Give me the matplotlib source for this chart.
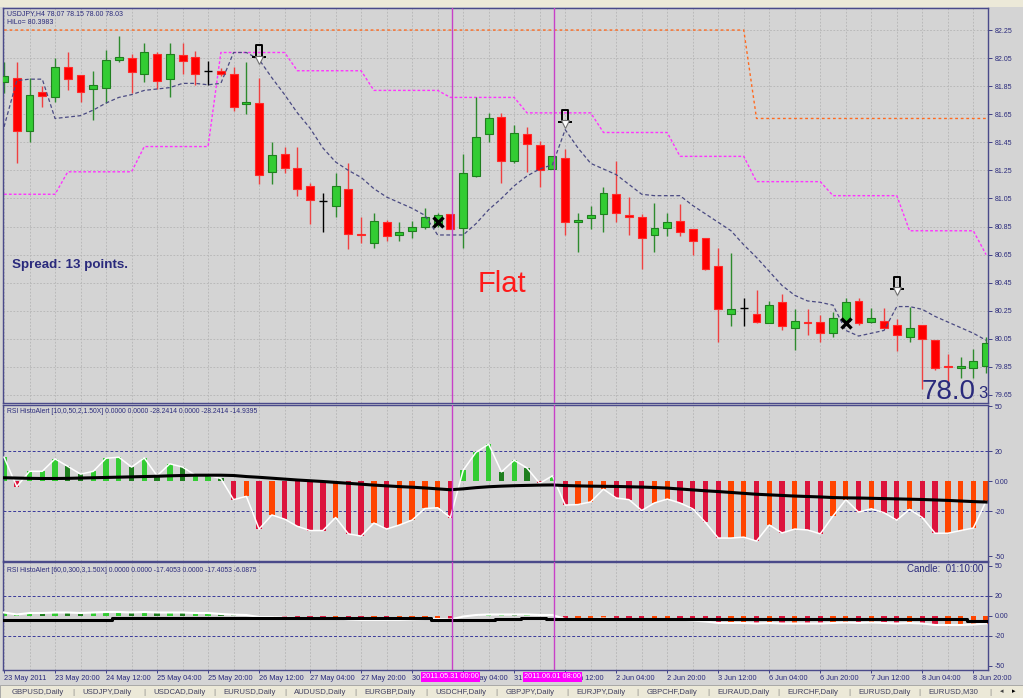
import matplotlib
matplotlib.use("Agg")
import matplotlib.pyplot as plt
import matplotlib.transforms as mtransforms
from matplotlib.path import Path
from matplotlib.patches import Rectangle

plt.rcParams["font.family"] = ["Liberation Sans", "DejaVu Sans"]

# USDJPY H4 bars, 23 May 04:00 .. 9 Jun 00:00
opens = [81.88, 81.91, 81.53, 81.81, 81.77, 81.99, 81.93, 81.83, 81.84, 82.04,
         82.05, 81.94, 82.08, 81.90, 82.07, 82.06, 81.96, 81.96, 81.94, 81.72,
         81.73, 81.24, 81.37, 81.27, 81.14, 81.03, 81.00, 81.12, 80.80, 80.73,
         80.88, 80.79, 80.82, 80.85, 80.86, 80.94, 80.84, 81.21, 81.51, 81.63,
         81.32, 81.51, 81.43, 81.26, 81.34, 80.88, 80.91, 80.94, 81.08, 80.93,
         80.92, 80.79, 80.84, 80.89, 80.83, 80.77, 80.57, 80.23, 80.27, 80.23,
         80.16, 80.31, 80.13, 80.17, 80.17, 80.09, 80.18, 80.32, 80.17, 80.18,
         80.15, 80.06, 80.15, 80.04, 79.86, 79.84, 79.84, 79.86]
highs = [82.02, 82.02, 81.91, 81.85, 82.05, 82.09, 81.93, 81.96, 82.11, 82.21,
         82.08, 82.16, 82.09, 82.16, 82.16, 82.10, 82.03, 81.98, 81.99, 82.02,
         81.91, 81.45, 81.42, 81.42, 81.16, 81.09, 81.23, 81.30, 80.92, 80.95,
         80.90, 80.88, 80.89, 80.98, 80.95, 80.94, 81.37, 81.77, 81.66, 81.66,
         81.57, 81.56, 81.46, 81.35, 81.40, 80.95, 81.00, 81.13, 81.32, 81.06,
         80.94, 81.02, 80.95, 81.01, 80.83, 80.77, 80.70, 80.66, 80.34, 80.40,
         80.32, 80.37, 80.26, 80.26, 80.22, 80.24, 80.34, 80.34, 80.27, 80.27,
         80.19, 80.28, 80.15, 80.04, 79.94, 79.92, 79.98, 80.06]
lows = [81.80, 81.30, 81.45, 81.70, 81.74, 81.82, 81.74, 81.61, 81.73, 82.02,
        81.80, 81.88, 81.83, 81.77, 81.94, 81.86, 81.86, 81.92, 81.67, 81.65,
        81.15, 81.15, 81.23, 81.07, 80.87, 80.81, 80.92, 80.69, 80.73, 80.70,
        80.75, 80.75, 80.77, 80.83, 80.85, 80.83, 80.70, 81.20, 81.45, 81.16,
        81.30, 81.24, 81.13, 81.26, 80.79, 80.67, 80.83, 80.81, 80.88, 80.79,
        80.55, 80.67, 80.78, 80.78, 80.65, 80.54, 80.03, 80.14, 80.14, 80.16,
        80.16, 80.11, 79.97, 80.08, 80.03, 80.06, 80.16, 80.15, 80.16, 80.13,
        79.96, 80.03, 79.69, 79.83, 79.71, 79.77, 79.77, 79.81]
closes = [81.92, 81.53, 81.79, 81.78, 81.99, 81.90, 81.81, 81.86, 82.04, 82.06,
          81.95, 82.09, 81.89, 82.08, 82.03, 81.94, 81.96, 81.94, 81.70, 81.74,
          81.22, 81.36, 81.27, 81.12, 81.04, 81.03, 81.14, 80.80, 80.79, 80.89,
          80.78, 80.81, 80.85, 80.92, 80.93, 80.83, 81.23, 81.49, 81.62, 81.32,
          81.52, 81.44, 81.25, 81.35, 80.88, 80.90, 80.93, 81.09, 80.95, 80.92,
          80.77, 80.84, 80.88, 80.81, 80.75, 80.55, 80.26, 80.26, 80.27, 80.17,
          80.29, 80.14, 80.18, 80.16, 80.09, 80.20, 80.31, 80.16, 80.20, 80.13,
          80.08, 80.13, 80.05, 79.84, 79.85, 79.86, 79.89, 80.02]

# indicator lines on the price chart
level_orange = [82.25] * 59 + [81.62] * 19
level_magenta = [81.08, 81.08, 81.08, 81.08, 81.08, 81.24, 81.24, 81.24, 81.24, 81.24,
                 81.24, 81.42, 81.42, 81.42, 81.42, 81.42, 81.42, 82.09, 82.09, 82.09,
                 82.09, 82.09, 82.09, 81.96, 81.96, 81.96, 81.96, 81.96, 81.96, 81.82,
                 81.82, 81.82, 81.82, 81.82, 81.82, 81.77, 81.77, 81.77, 81.77, 81.77,
                 81.77, 81.66, 81.66, 81.66, 81.66, 81.66, 81.66, 81.52, 81.52, 81.52,
                 81.52, 81.52, 81.52, 81.35, 81.35, 81.35, 81.35, 81.35, 81.35, 81.17,
                 81.17, 81.17, 81.17, 81.17, 81.17, 81.07, 81.07, 81.07, 81.07, 81.07,
                 81.07, 80.82, 80.82, 80.82, 80.82, 80.82, 80.82, 80.65]
trail = [81.56, 81.89, 81.90, 81.90, 81.62, 81.63, 81.64, 81.68, 81.73, 81.77,
         81.79, 81.82, 81.83, 81.84, 81.87, 81.87, 81.86, 81.87, 82.09, 82.09,
         82.04, 81.91, 81.79, 81.66, 81.55, 81.41, 81.31, 81.25, 81.20, 81.12,
         81.06, 81.02, 80.98, 80.93, 80.79, 80.79, 80.79, 80.87, 80.97, 81.05,
         81.14, 81.21, 81.26, 81.29, 81.54, 81.41, 81.30, 81.26, 81.22, 81.15,
         81.08, 81.07, 81.07, 81.07, 81.00, 80.94, 80.88, 80.82, 80.72, 80.63,
         80.53, 80.43, 80.36, 80.32, 80.31, 80.29, 80.11, 80.07, 80.09, 80.11,
         80.28, 80.28, 80.26, 80.21, 80.17, 80.13, 80.09, 80.04]
arrow_bars = [20, 44, 70]
arrow_prices = [82.10, 81.64, 80.45]
cross_bars = [34, 66]
cross_prices = [80.88, 80.16]

# RSI HistoAlert [10,...]
hist10 = [15.9, -3.7, 6.5, 6.5, 14.8, 9.8, 4.6, 6.5, 15.2, 15.9, 9.3, 15.4, 3.5, 11.5,
          9.3, 3.9, 3.9, 1.7, -12.4, -10.2, -32.0, -22.6, -25.4, -30.2, -33.0, -33.0,
          -24.3, -35.2, -36.7, -28.0, -32.0, -29.3, -26.0, -18.3, -17.8, -24.3, 7.2,
          19.1, 24.6, 6.1, 13.9, 8.7, -1.5, 3.5, -16.0, -15.7, -13.9, -5.4, -11.3,
          -12.4, -19.6, -14.6, -12.0, -14.6, -18.5, -27.6, -38.0, -38.0, -37.4, -40.0,
          -29.3, -34.6, -32.0, -32.6, -35.2, -23.3, -12.4, -20.7, -18.5, -21.1, -26.1,
          -18.9, -24.3, -34.8, -34.8, -33.0, -31.3, -13.5]
signal10 = [2.2, 2.0, 1.8, 1.7, 1.7, 1.8, 2.0, 2.2, 2.4, 2.6, 2.8, 3.0, 3.2, 3.5, 3.7,
            3.9, 3.9, 3.9, 3.7, 3.0, 2.5, 1.9, 1.3, 0.7, 0.2, -0.3, -0.9, -1.5, -2.1,
            -2.7, -3.2, -3.7, -4.1, -4.6, -5.2, -5.8, -5.2, -4.4, -3.8, -3.4, -3.1,
            -2.9, -2.7, -2.6, -3.0, -3.2, -3.4, -3.5, -3.6, -3.8, -4.0, -4.3, -4.7,
            -5.3, -5.9, -6.5, -7.0, -7.6, -8.2, -8.8, -9.2, -9.6, -10.0, -10.3, -10.6,
            -11.0, -11.2, -11.3, -11.5, -11.7, -11.9, -12.1, -12.3, -12.6, -12.9,
            -13.3, -13.7, -14.0]
# g = up (bright green), d = up but weaker (dark green), r = falling, o = recovering
kind10 = ("grgggddgggdgdgdggd" + "rororrrrorroroooor" + "gggdgdrg"
          + "rooorrroorrrroorororroororrorroooo")

# RSI HistoAlert [60,...]
hist60 = [3.0, 1.0, 2.5, 2.5, 3.0, 3.0, 2.5, 3.0, 3.5, 3.5, 3.0, 3.5, 3.0, 3.0, 3.0,
          2.5, 2.5, 1.5, 0.8, 0.5, -1.5, -1.5, -2.0, -2.5, -2.5, -2.5, -2.5, -4.0,
          -4.5, -4.5, -4.5, -4.5, -4.0, -3.5, -3.5, -4.0, -1.0, 0.5, 1.0, 1.0, 1.0,
          1.0, 0.5, 0.5, -3.5, -3.5, -3.5, -3.0, -3.5, -3.5, -4.0, -4.0, -4.0, -4.0,
          -5.0, -6.0, -7.5, -7.5, -7.5, -8.0, -7.5, -8.0, -8.0, -8.0, -8.0, -7.5,
          -7.0, -7.5, -7.0, -7.5, -8.0, -7.5, -8.0, -9.5, -9.5, -9.5, -9.0, -8.0]
signal60 = [-4.0, -4.0, -4.0, -4.0, -4.0, -4.0, -4.0, -4.0, -4.0, -2.3, -2.3, -2.3,
            -2.3, -2.3, -2.3, -2.3, -2.3, -2.3, -2.3, -2.3, -2.3, -2.3, -2.3, -2.3,
            -2.3, -2.3, -2.3, -2.3, -2.3, -2.3, -2.3, -2.3, -2.3, -2.3, -4.0, -4.0,
            -4.0, -4.0, -4.0, -3.0, -3.0, -2.0, -2.0, -3.0, -3.0, -3.0, -3.0, -3.0,
            -3.0, -3.0, -3.0, -3.0, -3.0, -3.0, -3.0, -3.0, -3.0, -3.0, -3.0, -3.0,
            -3.0, -3.0, -3.0, -3.7, -3.7, -3.7, -3.7, -3.7, -3.7, -3.7, -3.7, -3.7,
            -3.7, -3.7, -3.7, -3.7, -5.7, -5.7]
kind60 = ("gggdgddgggdgdgdggddd" + "rorrrrorrorooooro" + "gggdgdd"
          + "rooorrroorrrroorororroororrorroooo")

time_bars = [0, 4, 8, 12, 16, 20, 24, 28, 32, 36, 40, 44, 48, 52, 56, 60, 64, 68, 72, 76]
time_labels = ["23 May 2011", "23 May 20:00", "24 May 12:00", "25 May 04:00",
               "25 May 20:00", "26 May 12:00", "27 May 04:00", "27 May 20:00",
               "30 May 12:00", "31 May 04:00", "31 May 20:00", "1 Jun 12:00",
               "2 Jun 04:00", "2 Jun 20:00", "3 Jun 12:00", "6 Jun 04:00",
               "6 Jun 20:00", "7 Jun 12:00", "8 Jun 04:00", "8 Jun 20:00"]
vline_bars = [35, 43]
vline_labels = ["2011.05.31 00:00", "2011.06.01 08:00"]
price_ticks = [79.65, 79.85, 80.05, 80.25, 80.45, 80.65, 80.85, 81.05, 81.25,
               81.45, 81.65, 81.85, 82.05, 82.25]
tabs = ["GBPUSD,Daily", "USDJPY,Daily", "USDCAD,Daily", "EURUSD,Daily", "AUDUSD,Daily",
        "EURGBP,Daily", "USDCHF,Daily", "GBPJPY,Daily", "EURJPY,Daily", "GBPCHF,Daily",
        "EURAUD,Daily", "EURCHF,Daily", "EURUSD,Daily", "EURUSD,M30"]

NAVY = "#2A2A7C"
BG = "#D4D4D4"
KIND_COLORS = {"g": "#33CC33", "d": "#1F7F1F", "r": "#DC143C", "o": "#FF4500"}

W, H = 1023.0, 698.0
fig = plt.figure(figsize=(10.23, 6.98), dpi=100, facecolor=BG)


def px_axes(left, top, right, bottom):
    return fig.add_axes([left / W, 1 - bottom / H, (right - left) / W, (bottom - top) / H])


def ftext(xp, yp, s, **kw):
    return fig.text(xp / W, 1 - yp / H, s, **kw)


ax1 = px_axes(3, 8, 988, 403)
ax2 = px_axes(3, 405, 988, 561)
ax3 = px_axes(3, 562, 988, 670)

x = list(range(len(opens)))
for ax in (ax1, ax2, ax3):
    ax.set_facecolor(BG)
    ax.set_xlim(-0.08, 77.15)
    for s in ax.spines.values():
        s.set_color("#4A4A8A")
        s.set_linewidth(1.0)
    ax.yaxis.tick_right()
    ax.tick_params(axis="y", direction="out", length=3, pad=2, labelsize=5,
                   colors=NAVY, width=0.6)
    for g in range(0, 78, 2):
        ax.axvline(g, color="#B4B4B4", lw=0.6, ls=(0, (2, 2)), zorder=0)
    for b in vline_bars:
        ax.axvline(b + 0.15, color="#C840C8", lw=1.0, zorder=6)

# ---- price panel
ax1.set_ylim(79.593, 82.407)
ax1.set_yticks(price_ticks)
ax1.set_yticklabels(["%.2f" % p for p in price_ticks])
ax1.set_xticks([])
ax1.grid(axis="y", color="#B4B4B4", lw=0.6, ls=(0, (2, 2)))
ax1.set_axisbelow(True)

ax1.plot(x, level_orange, color="#FF6A20", lw=1.0, ls=(0, (2, 2)), zorder=1)
ax1.plot(x, level_magenta, color="#FF33FF", lw=1.0, ls=(0, (2, 1.5)), zorder=1)
ax1.plot(x, trail, color="#4A4A82", lw=0.9, ls=(0, (3, 2)), zorder=5)

up = [i for i in x if closes[i] > opens[i]]
dn = [i for i in x if closes[i] < opens[i]]
dj = [i for i in x if closes[i] == opens[i]]
ax1.vlines(up, [lows[i] for i in up], [highs[i] for i in up], color="#2E8B2E", lw=1.0, zorder=2)
ax1.vlines(dn, [lows[i] for i in dn], [highs[i] for i in dn], color="#F04040", lw=1.0, zorder=2)
ax1.vlines(dj, [lows[i] for i in dj], [highs[i] for i in dj], color="black", lw=1.0, zorder=2)
ax1.bar(up, [closes[i] - opens[i] for i in up], bottom=[opens[i] for i in up], width=0.62,
        color="#33CC33", edgecolor="#1F7F1F", lw=0.8, zorder=3)
ax1.bar(dn, [opens[i] - closes[i] for i in dn], bottom=[closes[i] for i in dn], width=0.62,
        color="#FF0000", edgecolor="#FF2A2A", lw=0.8, zorder=3)
ax1.hlines([closes[i] for i in dj], [i - 0.31 for i in dj], [i + 0.31 for i in dj],
           color="black", lw=1.0, zorder=3)

pulse = Path([(-1, -0.9), (-0.45, -0.9), (-0.45, 0.9), (0.45, 0.9), (0.45, -0.9), (1, -0.9)],
             [Path.MOVETO] + [Path.LINETO] * 5)
ax1.plot(arrow_bars, arrow_prices, ls="none", marker=pulse, ms=9.5, mfc="none",
         mec="black", mew=1.4, zorder=7)
shift = ax1.transData + mtransforms.ScaledTranslation(0, -0.085, fig.dpi_scale_trans)
ax1.plot(arrow_bars, arrow_prices, ls="none", marker="v", ms=6, mfc="white",
         mec="#707070", mew=0.8, transform=shift, zorder=7)
ax1.plot(cross_bars, cross_prices, ls="none", marker="x", ms=6.5, mec="black",
         mew=2.4, zorder=7)

ftext(7, 14, "USDJPY,H4 78.07 78.15 78.00 78.03", fontsize=5, color=NAVY, va="center")
ftext(7, 23, "HiLo= 80.3983", fontsize=5, color=NAVY, va="center")
ftext(12, 265, "Spread: 13 points.", fontsize=9.6, color=NAVY, va="center", weight="bold")
ftext(502, 284, "Flat", fontsize=21, color="#FF1A1A", ha="center", va="center")
ftext(922, 399, "78.0", fontsize=20, color=NAVY, va="baseline")
ftext(978, 398, "3", fontsize=12, color=NAVY, va="baseline")

# ---- RSI 10 panel
ax2.set_ylim(-53.3, 50.7)
ax2.set_yticks([50, 20, 0, -20, -50])
ax2.set_yticklabels(["50", "20", "0.00", "-20", "-50"])
ax2.set_xticks([])
ax2.bar(x, hist10, width=0.42, color=[KIND_COLORS[k] for k in kind10], zorder=2)
ax2.plot(x, hist10, color="white", lw=1.1, zorder=3)
ax2.plot(x, signal10, color="black", lw=2.2, zorder=4)
for lv in (20, -20):
    ax2.axhline(lv, color="#3A3A9A", lw=0.7, ls=(0, (3, 2)), zorder=1)
ftext(7, 411, "RSI HistoAlert [10,0,50,2,1.50X] 0.0000 0.0000 -28.2414 0.0000 -28.2414 -14.9395",
      fontsize=4.9, color=NAVY, va="center")

# ---- RSI 60 panel
ax3.set_ylim(-54.5, 53.5)
ax3.set_yticks([50, 20, 0, -20, -50])
ax3.set_yticklabels(["50", "20", "0.00", "-20", "-50"])
ax3.bar(x, hist60, width=0.42, color=[KIND_COLORS[k] for k in kind60], zorder=2)
ax3.plot(x, hist60, color="white", lw=1.5, zorder=3)
ax3.plot(x, signal60, color="black", lw=2.2, drawstyle="steps-mid", zorder=4)
for lv in (20, -20):
    ax3.axhline(lv, color="#3A3A9A", lw=0.7, ls=(0, (3, 2)), zorder=1)
ax3.set_xticks(time_bars)
ax3.set_xticklabels(time_labels)
ax3.tick_params(axis="x", direction="out", length=2, pad=1.5, labelsize=5.3,
                colors=NAVY, width=0.6)
for lab in ax3.get_xticklabels():
    lab.set_ha("left")
ftext(7, 570, "RSI HistoAlert [60,0,300,3,1.50X] 0.0000 0.0000 -17.4053 0.0000 -17.4053 -6.0875",
      fontsize=4.9, color=NAVY, va="center")
ftext(983, 569, "Candle:  01:10:00", fontsize=7, color=NAVY, ha="right", va="center")

# magenta date flags of the two vertical lines cover the time labels beneath them
for b, lab in zip(vline_bars, vline_labels):
    xp = ax3.transData.transform((b, 0))[0]
    fig.text(xp / W, 1 - 677 / H, lab, fontsize=5.3, color="white", ha="center", va="center",
             bbox=dict(boxstyle="square,pad=0.15", fc="#FF00FF", ec="none"))

# ---- window chrome: top toolbar strip and symbol tabs
fig.patches.append(Rectangle((0, 1 - 7 / H), 1, 7 / H, transform=fig.transFigure,
                             fc="#ECE9D8", ec="none", zorder=0))
fig.patches.append(Rectangle((0, 0), 1, 13 / H, transform=fig.transFigure,
                             fc="#ECE9D8", ec="#A0A0A0", lw=0.6, zorder=0))
tab_x = 12
for t in tabs:
    ftext(tab_x, 692, t, fontsize=5.6, color="#404060", va="center")
    tab_x += 70.5
    ftext(tab_x - 10, 692, "|", fontsize=6, color="#808080", va="center")
ftext(1000, 692, "\u25c2", fontsize=5, color="#404040", va="center")
ftext(1012, 692, "\u25b8", fontsize=5, color="#000000", va="center")

fig.savefig("out.png", dpi=100, facecolor=BG)
